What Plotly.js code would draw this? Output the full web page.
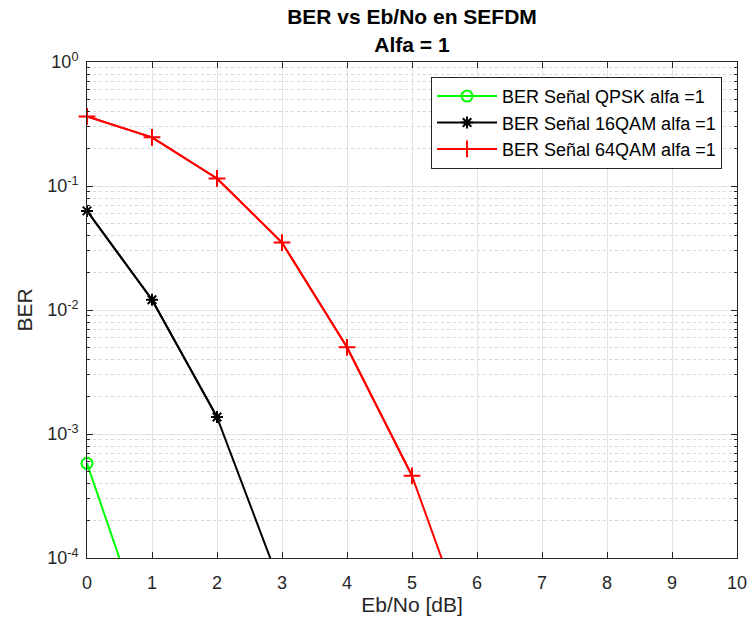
<!DOCTYPE html>
<html>
<head>
<meta charset="utf-8">
<script src="https://cdn.plot.ly/plotly-3.0.1.min.js"></script>
<style>html,body{margin:0;padding:0;background:#fff;}</style>
</head>
<body>
<div id="chart" style="width:751px;height:625px;"></div>
<script>
// Eb/No sweep in dB
const ebno = [0, 1, 2, 3, 4, 5, 6, 7, 8, 9, 10];

// Simulated BER per modulation (alpha = 1); points below 1e-4 fall outside the axis
const berQPSK  = [5.8e-4, 1.7e-5];
const ber16QAM = [0.063, 0.0121, 0.00137, 5.6e-5];
const ber64QAM = [0.364, 0.247, 0.115, 0.035, 0.0050, 0.00046, 1.6e-5];

const names = ['BER Señal QPSK alfa =1', 'BER Señal 16QAM alfa =1', 'BER Señal 64QAM alfa =1'];

const yTickVals = [1e-4, 1e-3, 1e-2, 1e-1, 1];
const yTickText = ['10<sup>-4</sup>', '10<sup>-3</sup>', '10<sup>-2</sup>', '10<sup>-1</sup>', '10<sup>0</sup>'];
const xTickVals = [0, 1, 2, 3, 4, 5, 6, 7, 8, 9, 10];
const yMinorDigits = [2, 3, 4, 5, 6, 7, 8, 9];

const yMin = 1e-4;
const font = 'Liberation Sans, Arial, Helvetica, sans-serif';

// minor log ticks 2..9 within each decade
const yMinorVals = [];
yTickVals.slice(0, -1).forEach(d => yMinorDigits.forEach(m => yMinorVals.push(d * m)));

// Each curve: a clipped line over all points, plus the in-range points with
// unclipped markers so the ones sitting on the axis edge are drawn whole.
function series(ys, name, color, symbol, size) {
  const xs = ebno.slice(0, ys.length);
  const keep = ys.map(v => v >= yMin);
  const line = {
    x: xs, y: ys, name: name, legendgroup: name, showlegend: false,
    mode: 'lines', line: {color: color, width: 2}, hoverinfo: 'skip'
  };
  const pts = {
    x: xs.filter((_, i) => keep[i]), y: ys.filter((_, i) => keep[i]),
    name: name, legendgroup: name,
    mode: 'lines+markers',
    line: {color: color, width: 2},
    marker: {symbol: symbol, size: size, color: color, line: {width: 2, color: color}},
    cliponaxis: false
  };
  return [line, pts];
}

const traces = [
  ...series(berQPSK, names[0], '#00ff00', 'circle-open', 11),
  ...series(ber16QAM, names[1], '#000000', 'asterisk-open', 10),
  ...series(ber64QAM, names[2], '#ff0000', 'cross-thin-open', 12)
];

const layout = {
  width: 751, height: 625,
  margin: {l: 87, r: 14, t: 62, b: 67},
  paper_bgcolor: '#ffffff',
  plot_bgcolor: '#ffffff',
  font: {family: font, size: 18, color: '#262626'},
  title: {
    text: '<b>BER vs Eb/No en SEFDM</b><br><b>Alfa = 1</b>',
    x: 0.5, xref: 'paper', xanchor: 'center',
    y: 0.961, yref: 'container', yanchor: 'middle',
    font: {family: font, size: 21, color: '#000000'}
  },
  xaxis: {
    range: [0, 10],
    tickvals: xTickVals,
    ticks: 'inside', ticklen: 6, tickcolor: '#262626',
    ticklabelstandoff: 8,
    showline: true, linecolor: '#262626', linewidth: 1, mirror: 'ticks',
    showgrid: true, gridcolor: '#e3e3e3', gridwidth: 1,
    zeroline: false,
    tickfont: {size: 18, color: '#262626'},
    title: {text: 'Eb/No [dB]', font: {size: 21, color: '#262626'}, standoff: 4}
  },
  yaxis: {
    type: 'log',
    range: [-4, 0],
    tickvals: yTickVals, ticktext: yTickText,
    ticks: 'inside', ticklen: 6, tickcolor: '#262626',
    ticklabelstandoff: 4,
    showline: true, linecolor: '#262626', linewidth: 1, mirror: 'ticks',
    showgrid: true, gridcolor: '#e3e3e3', gridwidth: 1,
    zeroline: false,
    tickfont: {size: 18, color: '#262626'},
    minor: {
      tickmode: 'array', tickvals: yMinorVals,
      ticks: 'inside', ticklen: 3, tickcolor: '#262626',
      showgrid: true, gridcolor: '#d6d6d6', griddash: 'dot', gridwidth: 1
    },
    title: {text: 'BER', font: {size: 21, color: '#262626'}, standoff: 8}
  },
  legend: {
    x: 0.977, xanchor: 'right', xref: 'paper',
    y: 0.97, yanchor: 'top', yref: 'paper',
    bgcolor: '#ffffff', bordercolor: '#262626', borderwidth: 1,
    font: {family: font, size: 18, color: '#000000'},
    itemwidth: 60,
    tracegroupgap: 0
  },
  showlegend: true
};

Plotly.newPlot('chart', traces, layout, {displayModeBar: false, staticPlot: true});
</script>
</body>
</html>
